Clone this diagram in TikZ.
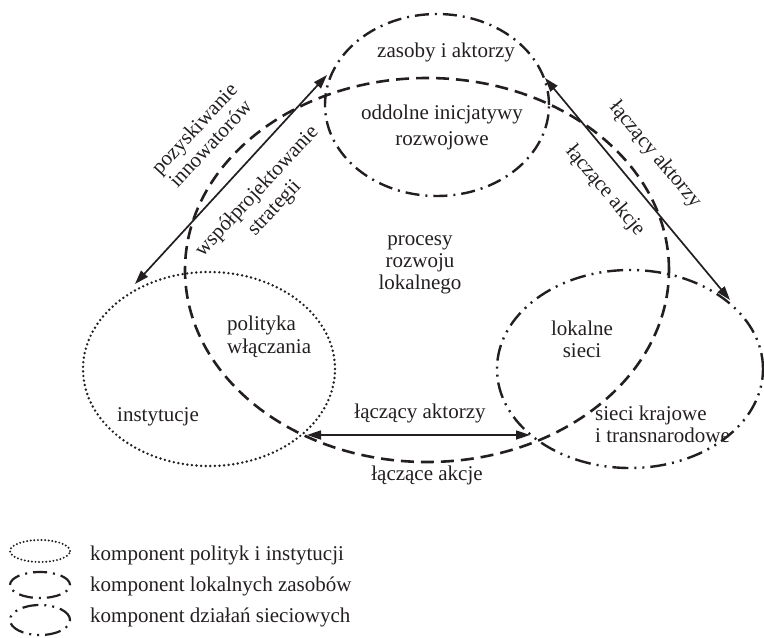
\documentclass[tikz,border=0pt]{standalone}
\usepackage{fontspec}
\setmainfont{Liberation Serif}
\usetikzlibrary{shapes.geometric,arrows.meta}
\definecolor{ink}{HTML}{231F20}
\begin{document}
\begin{tikzpicture}[x=1pt,y=-1pt,
  lbl/.style={font=\fontsize{21}{22}\selectfont, inner sep=0pt, align=center, text=ink},
  ell/.style={ellipse, inner sep=0pt, draw=ink},
  dotline/.style={line width=2.7pt, dash pattern=on 0pt off 4.6pt, line cap=round},
  smalldot/.style={line width=2.2pt, dash pattern=on 0pt off 3.6pt, line cap=round},
  dashline/.style={line width=2.6pt, dash pattern=on 13pt off 7pt},
  dashdot/.style={line width=2.4pt, dash pattern=on 14pt off 6pt on 2pt off 6pt},
  dashdotdot/.style={line width=2.4pt, dash pattern=on 16pt off 6pt on 2pt off 6pt on 2pt off 6pt},
  link/.style={draw=ink, line width=1.7pt, {Triangle[length=14pt,width=9pt]}-{Triangle[length=14pt,width=9pt]}}
]
\useasboundingbox (0,0) rectangle (764,638);

% ellipses
\node[ell, dashline, minimum width=484pt, minimum height=384pt] (proc) at (427,270) {};
\node[ell, dashdot, minimum width=224pt, minimum height=182pt] (zas) at (437,105) {};
\node[ell, dotline, minimum width=252pt, minimum height=194pt] (inst) at (209,369) {};
\node[ell, dashdotdot, minimum width=266pt, minimum height=198pt] (siec) at (630,369) {};

% arrow end points
\coordinate (lA) at (135,284);
\coordinate (lB) at (327,75);
\coordinate (rA) at (545,78);
\coordinate (rB) at (730,300);
\coordinate (bA) at (307,435);
\coordinate (bB) at (530,435);
\draw[link] (lA) -- (lB);
\draw[link] (rA) -- (rB);
\draw[link] (bA) -- (bB);

% texts
\node[lbl, anchor=base] (t1) at (446,57) {zasoby i aktorzy};
\node[lbl, font=\fontsize{21}{26}\selectfont] (t2) at (442,127) {oddolne inicjatywy\\rozwojowe};
\node[lbl] (t3) at (420,265) {procesy\\rozwoju\\lokalnego};
\node[lbl, align=left, anchor=west, font=\fontsize{21}{23}\selectfont] (t4) at (227,337) {polityka\\włączania};
\node[lbl] (t5) at (158,417) {instytucje};
\node[lbl] (t6) at (582,339) {lokalne\\sieci};
\node[lbl, align=left, anchor=west] (t7) at (595,424) {sieci krajowe\\i transnarodowe};
\node[lbl] (t8) at (420,413) {łączący aktorzy};
\node[lbl] (t9) at (427,475) {łączące akcje};
\node[lbl, rotate=47] (t10) at (202,136) {pozyskiwanie\\innowatorów};
\node[lbl, rotate=47, font=\fontsize{21}{24}\selectfont] (t11) at (266,200) {współprojektowanie\\strategii};
\node[lbl, rotate=-50] (t12) at (655,155) {łączący aktorzy};
\node[lbl, rotate=-50] (t13) at (605,191) {łączące akcje};

% legend
\node[ell, smalldot, minimum width=60pt, minimum height=22pt] (lg1) at (40,551) {};
\node[ell, dashdot, line width=2.2pt, minimum width=60pt, minimum height=26pt] (lg2) at (40,585) {};
\node[ell, dashdotdot, line width=2.2pt, minimum width=60pt, minimum height=30pt] (lg3) at (40,620) {};
\node[lbl, anchor=base west] (lt1) at (90,560) {komponent polityk i instytucji};
\node[lbl, anchor=base west] (lt2) at (90,591) {komponent lokalnych zasobów};
\node[lbl, anchor=base west] (lt3) at (90,622) {komponent działań sieciowych};
\end{tikzpicture}
\end{document}
